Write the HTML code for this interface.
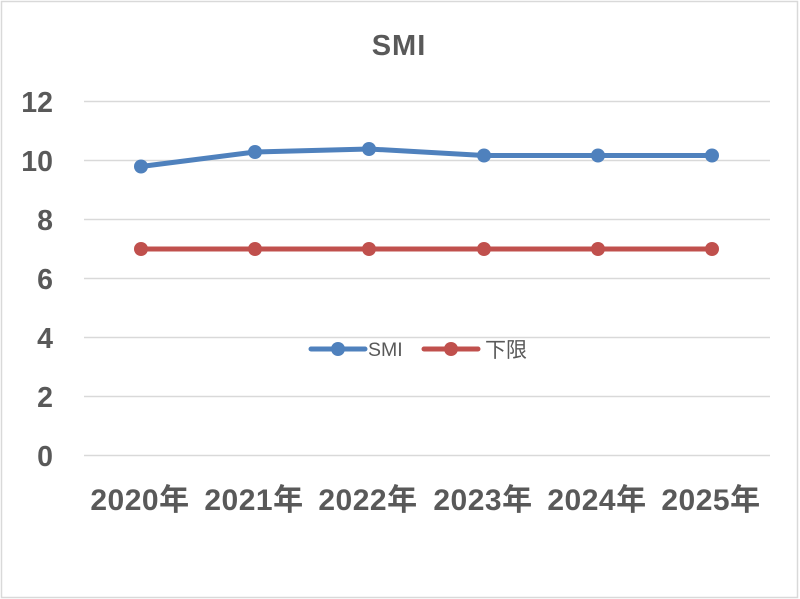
<!DOCTYPE html>
<html><head><meta charset="utf-8"><style>
html,body{margin:0;padding:0;background:#fff;}
svg{display:block;}
</style></head><body>
<svg width="800" height="599" viewBox="0 0 800 599" xmlns="http://www.w3.org/2000/svg">
<rect x="0" y="0" width="800" height="599" fill="#fff"/>
<rect x="1.5" y="1.5" width="796" height="596" fill="none" stroke="#d9d9d9" stroke-width="1.5"/>
<text x="399" y="55" text-anchor="middle" font-family="Liberation Sans, sans-serif" font-weight="bold" font-size="29" letter-spacing="1" fill="#595959">SMI</text>
<g stroke="#d9d9d9" stroke-width="1.5">
<line x1="84" x2="770" y1="101.5" y2="101.5"/>
<line x1="84" x2="770" y1="160.5" y2="160.5"/>
<line x1="84" x2="770" y1="219.5" y2="219.5"/>
<line x1="84" x2="770" y1="278.5" y2="278.5"/>
<line x1="84" x2="770" y1="337.5" y2="337.5"/>
<line x1="84" x2="770" y1="396.5" y2="396.5"/>
<line x1="84" x2="770" y1="455.5" y2="455.5"/>
</g>
<g font-family="Liberation Sans, sans-serif" font-weight="bold" font-size="28.5" fill="#595959" text-anchor="end">
<text x="53" y="112">12</text>
<text x="53" y="171">10</text>
<text x="53" y="230">8</text>
<text x="53" y="289">6</text>
<text x="53" y="348">4</text>
<text x="53" y="407">2</text>
<text x="53" y="466">0</text>
</g>
<g font-family="Liberation Sans, 'Noto Sans CJK JP', sans-serif" font-weight="bold" font-size="30" fill="#595959" text-anchor="middle" letter-spacing="0.5">
<text x="140" y="510">2020年</text>
<text x="254" y="510">2021年</text>
<text x="368" y="510">2022年</text>
<text x="483" y="510">2023年</text>
<text x="597" y="510">2024年</text>
<text x="711" y="510">2025年</text>
</g>
<polyline points="141,249 255,249 369,249 484,249 598,249 712,249" fill="none" stroke="#c0504d" stroke-width="5" stroke-linejoin="round"/>
<g fill="#c0504d">
<circle cx="141" cy="249" r="7"/><circle cx="255" cy="249" r="7"/><circle cx="369" cy="249" r="7"/>
<circle cx="484" cy="249" r="7"/><circle cx="598" cy="249" r="7"/><circle cx="712" cy="249" r="7"/>
</g>
<polyline points="141,166.5 255,152 369,149 484,155.5 598,155.5 712,155.5" fill="none" stroke="#4f81bd" stroke-width="5" stroke-linejoin="round"/>
<g fill="#4f81bd">
<circle cx="141" cy="166.5" r="7"/><circle cx="255" cy="152" r="7"/><circle cx="369" cy="149" r="7"/>
<circle cx="484" cy="155.5" r="7"/><circle cx="598" cy="155.5" r="7"/><circle cx="712" cy="155.5" r="7"/>
</g>
<line x1="311" x2="365" y1="349" y2="349" stroke="#4f81bd" stroke-width="5" stroke-linecap="round"/>
<circle cx="338" cy="349" r="7" fill="#4f81bd"/>
<text x="368" y="356" font-family="Liberation Sans, sans-serif" font-size="19.5" fill="#595959">SMI</text>
<line x1="424" x2="478" y1="349" y2="349" stroke="#c0504d" stroke-width="5" stroke-linecap="round"/>
<circle cx="451" cy="349" r="7" fill="#c0504d"/>
<text x="485" y="357" font-family="Liberation Sans, 'Noto Sans CJK JP', sans-serif" font-size="21" fill="#595959">下限</text>
</svg>
</body></html>
